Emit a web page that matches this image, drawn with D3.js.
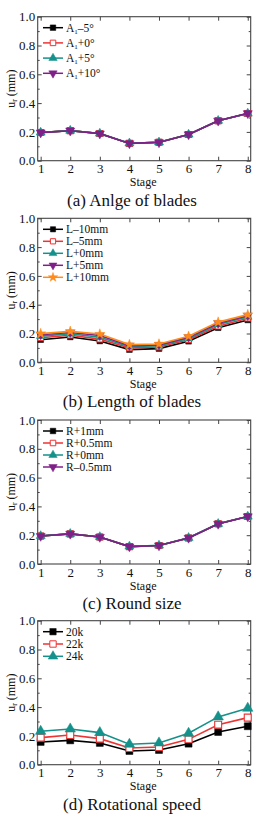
<!DOCTYPE html>
<html>
<head>
<meta charset="utf-8">
<script src="https://cdn.jsdelivr.net/npm/d3@7"></script>
<style>
  body { margin: 0; background: #fff; }
  svg text { font-family: "Liberation Serif", "Times New Roman", Times, serif !important; fill: #111; }
</style>
</head>
<body>
<div id="chart"></div>
<script>
// stages on the x axis
var stages = [1, 2, 3, 4, 5, 6, 7, 8];
var yTicks = [0, 0.2, 0.4, 0.6, 0.8, 1.0];

// (a) angle of blades
var angleNames = ["A_1–5°", "A_1+0°", "A_1+5°", "A_1+10°"];
var angleM5  = [0.196, 0.209, 0.189, 0.120, 0.128, 0.182, 0.277, 0.328];
var angleP0  = [0.196, 0.209, 0.189, 0.120, 0.128, 0.182, 0.277, 0.328];
var angleP5  = [0.196, 0.209, 0.189, 0.121, 0.128, 0.182, 0.278, 0.328];
var angleP10 = [0.195, 0.208, 0.188, 0.120, 0.127, 0.182, 0.277, 0.329];

// (b) length of blades
var lengthNames = ["L–10mm", "L–5mm", "L+0mm", "L+5mm", "L+10mm"];
var lenM10 = [0.157, 0.176, 0.148, 0.088, 0.095, 0.146, 0.240, 0.294];
var lenM5  = [0.170, 0.188, 0.161, 0.099, 0.106, 0.156, 0.251, 0.306];
var lenP0  = [0.182, 0.198, 0.174, 0.108, 0.115, 0.166, 0.262, 0.316];
var lenP5  = [0.191, 0.207, 0.186, 0.116, 0.121, 0.174, 0.271, 0.324];
var lenP10 = [0.199, 0.215, 0.196, 0.123, 0.127, 0.181, 0.279, 0.331];

// (c) round size
var roundNames = ["R+1mm", "R+0.5mm", "R+0mm", "R–0.5mm"];
var roundP1  = [0.194, 0.209, 0.187, 0.121, 0.128, 0.181, 0.279, 0.330];
var roundP05 = [0.194, 0.209, 0.187, 0.121, 0.128, 0.181, 0.279, 0.330];
var roundP0  = [0.195, 0.210, 0.188, 0.122, 0.129, 0.182, 0.279, 0.330];
var roundM05 = [0.194, 0.209, 0.187, 0.121, 0.128, 0.181, 0.278, 0.330];

// (d) rotational speed
var speedNames = ["20k", "22k", "24k"];
var speed20 = [0.158, 0.169, 0.151, 0.095, 0.102, 0.146, 0.227, 0.267];
var speed22 = [0.188, 0.206, 0.181, 0.116, 0.123, 0.176, 0.278, 0.327];
var speed24 = [0.232, 0.248, 0.223, 0.142, 0.151, 0.218, 0.332, 0.392];

// series styles (Origin-like)
var styles = [
  { color: "#000000", symbol: d3.symbolSquare, fill: true, rot: 0 },
  { color: "#ee3333", symbol: d3.symbolSquare, fill: false, rot: 0 },
  { color: "#14918a", symbol: d3.symbolTriangle, fill: true, rot: 0 },
  { color: "#7f1f88", symbol: d3.symbolTriangle, fill: true, rot: 180 },
  { color: "#ff8c1a", symbol: d3.symbolStar, fill: true, rot: 0 }
];

var W = 254, H = 814;
var left = 37.7, right = 250.7, plotH = 144;
var serif = "'Liberation Serif', 'Times New Roman', Times, serif";

var svg = d3.select("#chart").append("svg")
  .attr("width", W).attr("height", H);

var panels = [
  { top: 16.7, names: angleNames, data: [angleM5, angleP0, angleP5, angleP10], caption: "(a) Anlge of blades", gap: 15.2, size: 36 },
  { top: 218.3, names: lengthNames, data: [lenM10, lenM5, lenP0, lenP5, lenP10], caption: "(b) Length of blades", gap: 12, size: 32 },
  { top: 420, names: roundNames, data: [roundP1, roundP05, roundP0, roundM05], caption: "(c) Round size", gap: 12, size: 36 },
  { top: 620.7, names: speedNames, data: [speed20, speed22, speed24], caption: "(d) Rotational speed", gap: 12.3, size: 48 }
];

function addLabel(sel, name) {
  // "_" marks a one-char subscript
  var i = name.indexOf("_");
  if (i < 0) { sel.text(name); return; }
  sel.append("tspan").text(name.slice(0, i));
  sel.append("tspan").attr("baseline-shift", "-30%").attr("font-size", "7px").text(name.slice(i + 1, i + 2));
  sel.append("tspan").text(name.slice(i + 2));
}

panels.forEach(function(p) {
  var x = d3.scaleLinear().domain([0.9, 8.1]).range([left, right]);
  var y = d3.scaleLinear().domain([0, 1]).range([p.top + plotH, p.top]);
  var g = svg.append("g");

  // minor ticks
  var minor = [0.1, 0.3, 0.5, 0.7, 0.9];
  g.append("g").attr("transform", "translate(" + left + ",0)")
    .call(d3.axisLeft(y).tickValues(minor).tickSize(-2).tickFormat(""));
  g.append("g").attr("transform", "translate(" + right + ",0)")
    .call(d3.axisRight(y).tickValues(minor).tickSize(-2).tickFormat(""));

  // major ticks
  g.append("g").attr("transform", "translate(" + left + ",0)")
    .call(d3.axisLeft(y).tickValues(yTicks).tickSize(-4).tickPadding(2.5).tickFormat(d3.format(".1f")));
  g.append("g").attr("transform", "translate(" + right + ",0)")
    .call(d3.axisRight(y).tickValues(yTicks).tickSize(-4).tickFormat(""));
  g.append("g").attr("transform", "translate(0," + (p.top + plotH) + ")")
    .call(d3.axisBottom(x).tickValues(stages).tickSize(-4).tickPadding(3.5));
  g.append("g").attr("transform", "translate(0," + p.top + ")")
    .call(d3.axisTop(x).tickValues(stages).tickSize(-4).tickFormat(""));

  g.selectAll("g").attr("font-family", serif);
  g.selectAll(".domain").remove();
  g.selectAll(".tick line").attr("stroke", "#444");
  g.selectAll(".tick text").attr("font-size", "13px");

  // frame
  g.append("rect").attr("x", left).attr("y", p.top)
    .attr("width", right - left).attr("height", plotH)
    .attr("fill", "none").attr("stroke", "#444").attr("stroke-width", 1.1);

  // titles
  g.append("text").attr("x", (left + right) / 2 - 1).attr("y", p.top + plotH + 25.5)
    .attr("text-anchor", "middle").attr("font-size", "12px").text("Stage");
  var yt = g.append("text")
    .attr("transform", "translate(15," + (p.top + plotH / 2) + ") rotate(-90)")
    .attr("text-anchor", "middle").attr("font-size", "12px");
  yt.append("tspan").text("u");
  yt.append("tspan").attr("baseline-shift", "-30%").attr("font-size", "7.5px").text("r");
  yt.append("tspan").text(" (mm)");
  g.append("text").attr("x", 132).attr("y", p.top + plotH + 45)
    .attr("text-anchor", "middle").attr("font-size", "17px").text(p.caption);

  // lines and markers
  var line = d3.line().x(function(d, i) { return x(stages[i]); }).y(function(d) { return y(d); });
  p.data.forEach(function(vals, k) {
    var s = styles[k];
    g.append("path").datum(vals).attr("d", line)
      .attr("fill", "none").attr("stroke", s.color).attr("stroke-width", 1.6);
    g.selectAll(null).data(vals).enter().append("path")
      .attr("d", d3.symbol().type(s.symbol).size(p.size))
      .attr("transform", function(d, i) { return "translate(" + x(stages[i]) + "," + y(d) + ") rotate(" + s.rot + ")"; })
      .attr("fill", s.fill ? s.color : "#fff")
      .attr("stroke", s.color).attr("stroke-width", s.fill ? 0.5 : 1.1);
  });

  // legend
  p.names.forEach(function(name, k) {
    var s = styles[k];
    var ly = p.top + 11 + k * p.gap;
    g.append("line").attr("x1", 43).attr("x2", 63).attr("y1", ly).attr("y2", ly)
      .attr("stroke", s.color).attr("stroke-width", 1.5);
    g.append("path").attr("d", d3.symbol().type(s.symbol).size(p.size * 0.85))
      .attr("transform", "translate(53," + ly + ") rotate(" + s.rot + ")")
      .attr("fill", s.fill ? s.color : "#fff")
      .attr("stroke", s.color).attr("stroke-width", s.fill ? 0.5 : 1);
    var t = g.append("text").attr("x", 66).attr("y", ly + 4).attr("font-size", "11.5px");
    addLabel(t, name);
  });
});
</script>
</body>
</html>
